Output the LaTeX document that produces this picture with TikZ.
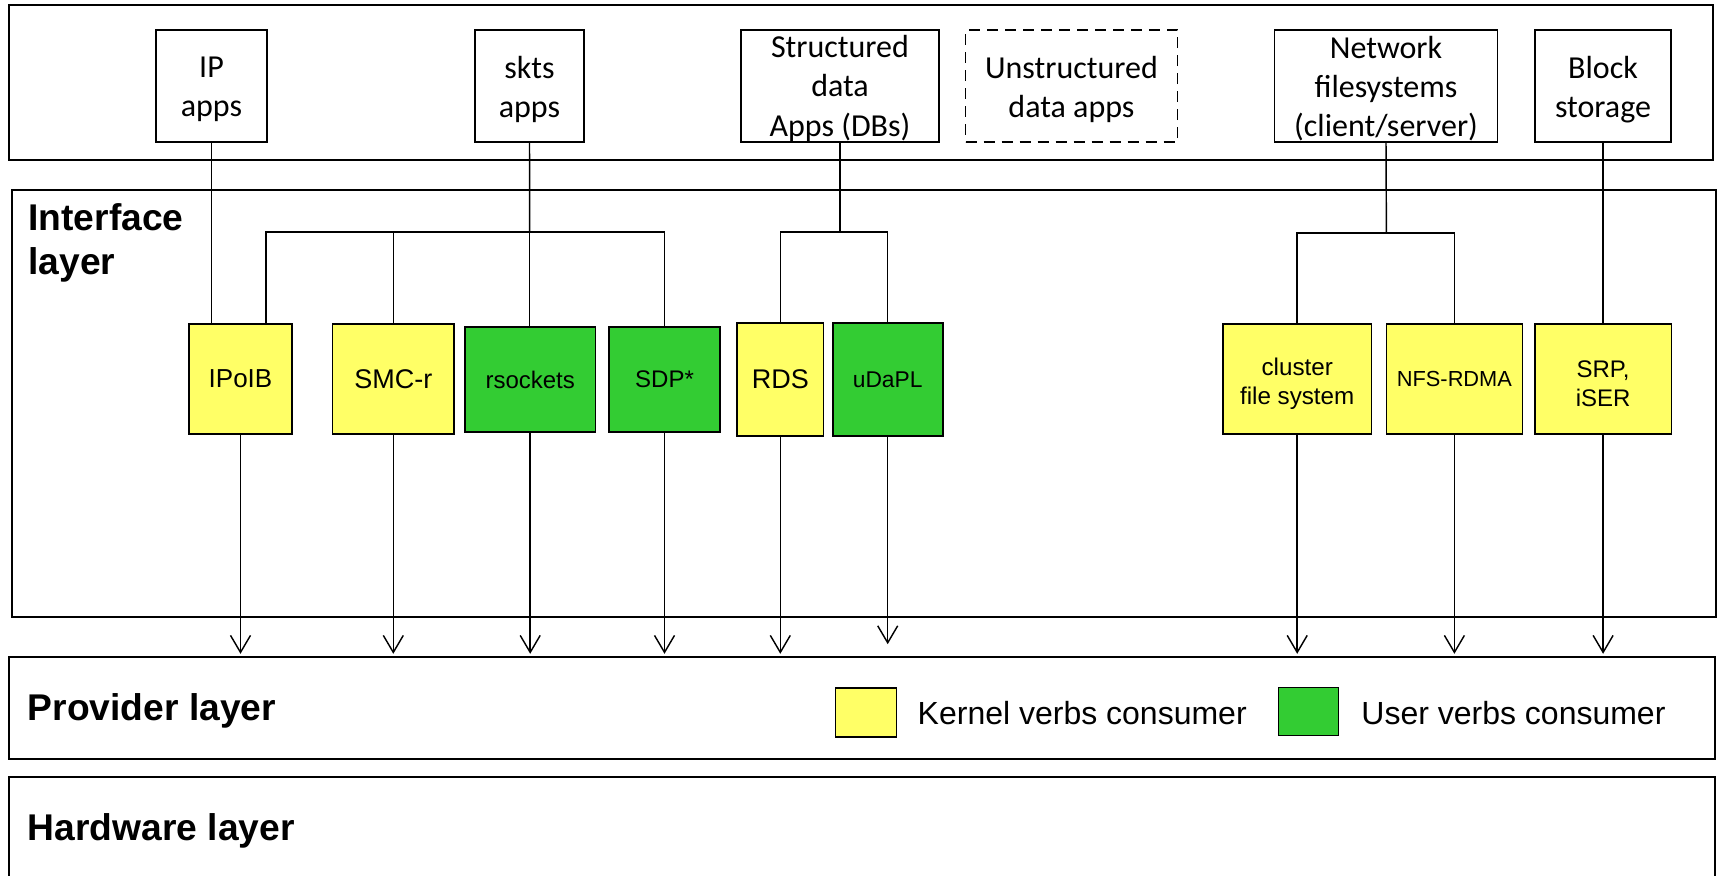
\documentclass[tikz,border=0pt]{standalone}
\usepackage{fontspec}
\setmainfont{Liberation Sans}
\newfontfamily\calfont{Carlito}
\usetikzlibrary{arrows.meta}
\definecolor{kyellow}{HTML}{FFFF66}
\definecolor{ugreen}{HTML}{33CC33}
\begin{document}
\begin{tikzpicture}[x=0.5pt,y=-0.5pt,
  layerbox/.style={draw, line width=1.2pt, inner sep=0pt},
  layerlabel/.style={inner sep=0pt, font=\bfseries\fontsize{18.6pt}{22pt}\selectfont},
  appbox/.style={draw, line width=0.9pt, inner sep=0pt, minimum height=56pt},
  apptext/.style={inner sep=0pt, align=center, font=\calfont\fontsize{16pt}{19.6pt}\selectfont},
  kbox/.style={draw, fill=kyellow, line width=0.8pt, inner sep=0pt, align=center},
  ubox/.style={draw, fill=ugreen, line width=0.8pt, inner sep=0pt, align=center},
  conn/.style={line width=0.72pt},
  arr/.style={line width=0.72pt, -{Straight Barb[length=8.5pt,width=10pt]}},
  legtext/.style={inner sep=0pt, font=\fontsize{16pt}{19pt}\selectfont}
]
\clip (0,0) rectangle (1719,875);
\fill[white] (0,0) rectangle (1719,875);

% layer boxes
\node[layerbox, minimum width=852pt, minimum height=77.5pt] (top) at (861,82.5) {};
\node[layerbox, minimum width=852pt, minimum height=213.5pt] (iface) at (864,403.5) {};
\node[layerbox, minimum width=853pt, minimum height=51pt] (prov) at (862,708) {};
\node[layerbox, minimum width=853pt, minimum height=70pt] (hw) at (862,847) {};

\node[layerlabel, anchor=north west, align=left] (ifacelbl) at (28,203) {Interface\\layer};
\node[layerlabel, anchor=base west] (provlbl) at (27.5,720) {Provider layer};
\node[layerlabel, anchor=base west] (hwlbl) at (27.5,840) {Hardware layer};

% application boxes
\node[appbox, minimum width=55.85pt] (ipapps) at (211.5,86) {};
\node[apptext] (ipappstxt) at ([yshift=-1.7pt]ipapps.center) {IP\\apps};
\node[appbox, minimum width=54.5pt] (skts) at (529.5,86) {};
\node[apptext] (sktstxt) at ([yshift=-1.7pt]skts.center) {skts\\apps};
\node[appbox, minimum width=99pt] (struct) at (840,86) {};
\node[apptext] (structtxt) at ([yshift=-1.2pt]struct.center) {Structured\\data\\Apps (DBs)};
\node[appbox, minimum width=106pt, dash pattern=on 5.5pt off 3.5pt] (unstruct) at (1071.5,86) {};
\node[apptext] (unstructtxt) at ([yshift=-1.7pt]unstruct.center) {Unstructured\\data apps};
\node[appbox, minimum width=111.5pt] (netfs) at (1386,86) {};
\node[apptext] (netfstxt) at ([yshift=-1.2pt]netfs.center) {Network\\filesystems\\(client/server)};
\node[appbox, minimum width=68.3pt] (block) at (1603,86) {};
\node[apptext] (blocktxt) at ([yshift=-1.7pt]block.center) {Block\\storage};

% interface boxes
\node[kbox, minimum width=51.5pt, minimum height=55pt, font=\fontsize{13pt}{15pt}\selectfont] (ipoib) at (240.5,379) {IPoIB};
\node[kbox, minimum width=60.7pt, minimum height=55pt, font=\fontsize{13.5pt}{15pt}\selectfont] (smcr) at (393.3,379) {SMC-r};
\node[ubox, minimum width=65.25pt, minimum height=52.5pt, font=\fontsize{12pt}{14pt}\selectfont] (rsock) at (530.2,379.5) {rsockets};
\node[ubox, minimum width=55.5pt, minimum height=52.5pt, font=\fontsize{12pt}{14pt}\selectfont] (sdp) at (664.5,379.5) {SDP*};
\node[kbox, minimum width=43.3pt, minimum height=56.5pt, font=\fontsize{13.5pt}{15pt}\selectfont] (rds) at (780.3,379.5) {RDS};
\node[ubox, minimum width=55pt, minimum height=56.5pt, font=\fontsize{11.4pt}{14pt}\selectfont] (udapl) at (887.7,379.5) {uDaPL};
\node[kbox, minimum width=74.2pt, minimum height=55pt, font=\fontsize{12.1pt}{14.5pt}\selectfont] (cluster) at (1297.2,379) {\rule{0pt}{13.3pt}cluster\\file system};
\node[kbox, minimum width=68pt, minimum height=55pt, font=\fontsize{10.9pt}{13pt}\selectfont] (nfs) at (1454.4,379) {NFS-RDMA};
\node[kbox, minimum width=68.3pt, minimum height=55pt, font=\fontsize{12pt}{14.5pt}\selectfont] (srp) at (1603.1,379) {\rule{0pt}{12.8pt}SRP,\\iSER};

% junctions
\coordinate (sktsj) at (529.7,232);
\coordinate (dbj) at (840,232);
\coordinate (nfj) at (1386.4,233);

% connectors from apps
\draw[conn] (ipapps.south) -- (ipapps.south |- ipoib.north);
\draw[conn] (skts.south) -- (sktsj);
\draw[conn] (sktsj) -| ([xshift=12.75pt]ipoib.north);
\draw[conn] (sktsj) -| (smcr.north);
\draw[conn] (sktsj) -- (sktsj |- rsock.north);
\draw[conn] (sktsj) -| (sdp.north);
\draw[conn] (struct.south) -- (dbj);
\draw[conn] (dbj) -| (rds.north);
\draw[conn] (dbj) -| (udapl.north);
\draw[conn] (netfs.south) -- (nfj);
\draw[conn] (nfj) -| (cluster.north);
\draw[conn] (nfj) -| (nfs.north);
\draw[conn] (block.south) -- (block.south |- srp.north);

% arrows to provider layer
\draw[arr, shorten >=1pt] (ipoib.south) -- (ipoib.south |- prov.north);
\draw[arr, shorten >=1pt] (smcr.south) -- (smcr.south |- prov.north);
\draw[arr, shorten >=1pt] (rsock.south) -- (rsock.south |- prov.north);
\draw[arr, shorten >=1pt] (sdp.south) -- (sdp.south |- prov.north);
\draw[arr, shorten >=1pt] (rds.south) -- (rds.south |- prov.north);
\draw[arr, shorten >=5.8pt] (udapl.south) -- (udapl.south |- prov.north);
\draw[arr, shorten >=1pt] (cluster.south) -- (cluster.south |- prov.north);
\draw[arr, shorten >=1pt] (nfs.south) -- (nfs.south |- prov.north);
\draw[arr, shorten >=1pt] (srp.south) -- (srp.south |- prov.north);

% legend
\node[kbox, minimum width=30.5pt, minimum height=24.3pt] (legk) at (866,712.5) {};
\node[legtext, anchor=base west] (legktxt) at (917.3,724) {Kernel verbs consumer};
\node[ubox, minimum width=30pt, minimum height=24pt] (legu) at (1308.5,711.5) {};
\node[legtext, anchor=base west] (legutxt) at (1361,724) {User verbs consumer};
\end{tikzpicture}
\end{document}
